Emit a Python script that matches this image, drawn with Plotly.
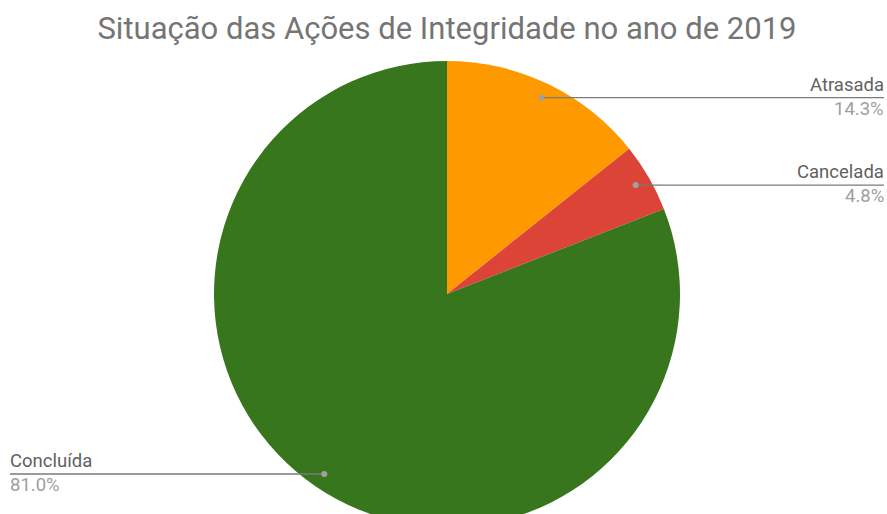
import math
import plotly.graph_objects as go

labels = ["Atrasada", "Cancelada", "Concluída"]
values = [3, 1, 17]
colors = ["#FF9900", "#DB4437", "#38761D"]
title_text = "Situação das Ações de Integridade no ano de 2019"

W, H = 887, 540
CX, CY, R = 447, 294, 233
DOT_F = 0.935
RIGHT_X, LEFT_X = 886, 8


def px(x):
    return x / W


def py(y):
    return 1 - y / H


fig = go.Figure(go.Pie(
    labels=labels, values=values, sort=False, direction="clockwise",
    rotation=0, textinfo="none", hoverinfo="label+percent",
    marker=dict(colors=colors, line=dict(width=0)),
    domain=dict(x=[px(CX - R), px(CX + R)], y=[py(CY + R), py(CY - R)]),
    showlegend=False,
))

shapes, annotations = [], []
total = sum(values)
cum = 0.0
for lab, v in zip(labels, values):
    frac = v / total
    mid = (cum + frac / 2) * 2 * math.pi
    cum += frac
    dx = CX + math.sin(mid) * R * DOT_F
    dy = CY - math.cos(mid) * R * DOT_F
    right = math.sin(mid) > 0
    x0, x1 = (dx, RIGHT_X - 2) if right else (LEFT_X + 2, dx)
    shapes.append(dict(type="line", xref="paper", yref="paper",
                       x0=px(x0), x1=px(x1), y0=py(dy), y1=py(dy),
                       line=dict(color="#7a7a7a", width=1.3)))
    shapes.append(dict(type="circle", xref="paper", yref="paper",
                       x0=px(dx - 3), x1=px(dx + 3), y0=py(dy + 3), y1=py(dy - 3),
                       fillcolor="#a0a0a0", line=dict(width=0)))
    tx = RIGHT_X if right else LEFT_X
    anchor = "right" if right else "left"
    annotations.append(dict(text=lab, x=px(tx), y=py(dy), xref="paper", yref="paper",
                            xanchor=anchor, yanchor="bottom", showarrow=False,
                            font=dict(family="Roboto", size=18.5, color="#616161")))
    annotations.append(dict(text=f"{frac*100:.1f}%", x=px(tx), y=py(dy - 2), xref="paper", yref="paper",
                            xanchor=anchor, yanchor="top", showarrow=False,
                            font=dict(family="Roboto", size=18.5, color="#9e9e9e")))

fig.update_layout(
    width=W, height=H,
    margin=dict(l=0, r=0, t=0, b=0),
    paper_bgcolor="white", plot_bgcolor="white",
    title=dict(text=title_text, x=px(447), xanchor="center", y=py(28), yanchor="middle",
               font=dict(family="Roboto", size=31, color="#757575")),
    shapes=shapes, annotations=annotations,
)

fig.write_html("out.html", config={"displayModeBar": False}, post_script=(
    "document.body.style.margin='0';"
    "document.body.style.overflow='hidden';"
    "document.documentElement.style.overflow='hidden';"
))
